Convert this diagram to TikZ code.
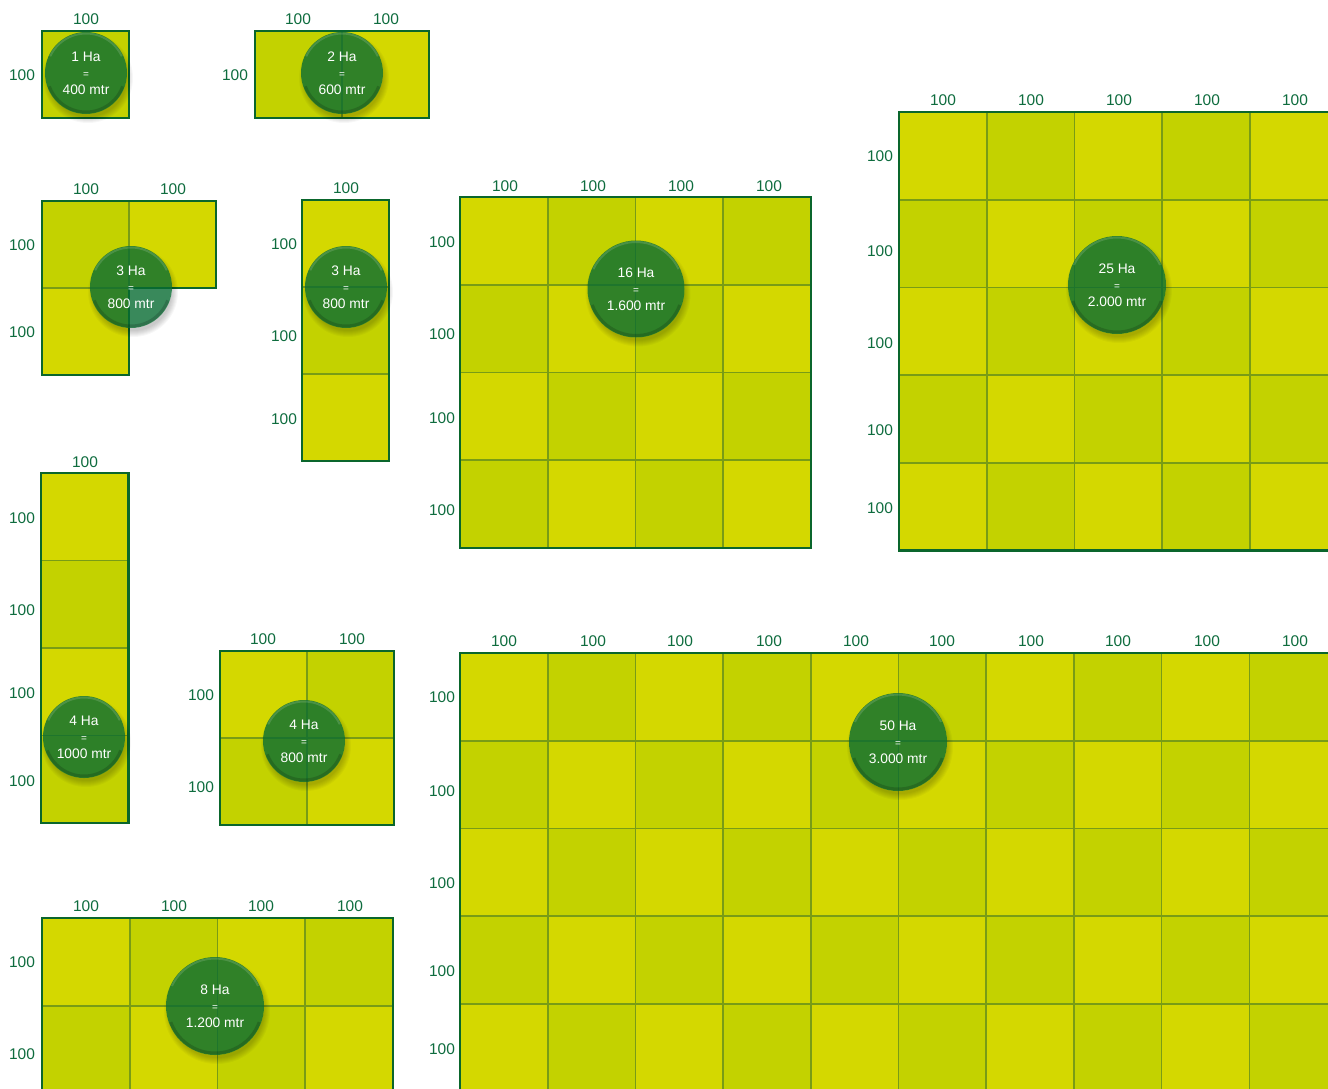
\documentclass[tikz,border=0pt]{standalone}
\usepackage{fontspec}
\setmainfont{Liberation Sans}
\definecolor{lightg}{RGB}{212,216,0}
\definecolor{darkg}{RGB}{195,210,0}
\definecolor{edgeg}{RGB}{10,102,44}
\definecolor{lineg}{RGB}{120,156,22}
\definecolor{labelg}{RGB}{14,108,62}
\definecolor{discg}{RGB}{8,108,50}
\tikzset{
  cellbox/.style={draw=lineg, line width=1.6pt},
  outline/.style={draw=edgeg, line width=2.6pt, line join=miter},
  dimlabel/.style={text=labelg, font=\fontsize{15.5}{18}\selectfont, inner sep=0pt},
  disctext/.style={inner sep=0pt, text=white, align=center, font=\fontsize{13.8}{16.5}\selectfont},
}
\def\cs{87}
\newcommand{\cells}[5]{%
  \foreach \i in {1,...,#3}{\foreach \j in {1,...,#4}{%
    \pgfmathtruncatemacro{\cpar}{mod(\i+\j+#5,2)}%
    \ifnum\cpar=0 \def\cellcol{lightg}\else\def\cellcol{darkg}\fi
    \filldraw[cellbox, fill=\cellcol] ({#1+(\i-1)*\cs},{#2+(\j-1)*\cs}) rectangle ++(\cs,\cs);
  }}}
\newcommand{\haDisc}[5]{%
  \begin{scope}[even odd rule]
    \clip (-10,-10) rectangle (1340,1100) (#2,#3) circle[radius=#4];
    \foreach \k in {1,...,7}{\fill[black, opacity=0.03] ({#2+2},{#3+5}) circle[radius={#4+\k-3}];}
  \end{scope}
  \fill[discg, opacity=0.8] (#2,#3) circle[radius=#4];
  \draw[white, opacity=0.14, line width=2pt] ({#2},{#3}) ++(205:{#4-1.5}) arc[start angle=205, end angle=335, radius={#4-1.5}];
  \draw[black, opacity=0.16, line width=3pt] ({#2},{#3}) ++(20:{#4-2}) arc[start angle=20, end angle=160, radius={#4-2}];
  \node[disctext] (#1) at (#2,#3) {#5};
}
\newcommand{\eqs}{{\fontsize{10}{16.5}\selectfont =}}
\begin{document}
\begin{tikzpicture}[x=1pt,y=-1pt]
\clip (0,0) rectangle (1328,1088);
\fill[white] (0,0) rectangle (1328,1088);

% ---- small blocks (cell 87) ----
\def\cs{87}
\cells{42}{31}{1}{1}{1}
\draw[outline] (42,31) rectangle ++(\cs,\cs);
\cells{255}{31}{2}{1}{1}
\draw[outline] (255,31) rectangle ++({2*\cs},\cs);
\cells{42}{201}{2}{1}{1}
\cells{42}{288}{1}{1}{0}
\draw[outline] (42,201) -- (216,201) -- (216,288) -- (129,288) -- (129,375) -- (42,375) -- cycle;
\cells{302}{200}{1}{3}{0}
\draw[outline] (302,200) rectangle ++(\cs,{3*\cs});
\cells{220}{651}{2}{2}{0}
\draw[outline] (220,651) rectangle ++({2*\cs},{2*\cs});
\def\cs{87.5}
\cells{41}{473}{1}{4}{0}
\draw[outline] (41,473) rectangle ++(\cs,{4*\cs});
% ---- large blocks (cell 87.7) ----
\def\cs{87.7}
\cells{42}{918}{4}{2}{0}
\draw[outline] (42,918) rectangle ++({4*\cs},{2*\cs});
\cells{460}{197}{4}{4}{0}
\draw[outline] (460,197) rectangle ++({4*\cs},{4*\cs});
\cells{899}{112}{5}{5}{0}
\draw[outline] (899,112) rectangle ++({5*\cs},{5*\cs});
\cells{460}{653}{10}{5}{0}
\draw[outline] (460,653) rectangle ++({10*\cs},{5*\cs});

% ---- dimension labels ----
\node[dimlabel] (t1-1) at (86,19) {100};
\node[dimlabel] (l1-1) at (22,75) {100};
\foreach \x [count=\c] in {298,386} \node[dimlabel] (t2-\c) at (\x,19) {100};
\node[dimlabel] (l2-1) at (235,75) {100};
\foreach \x [count=\c] in {86,173} \node[dimlabel] (t3a-\c) at (\x,189) {100};
\foreach \y [count=\c] in {245,332} \node[dimlabel] (l3a-\c) at (22,\y) {100};
\node[dimlabel] (t3b-1) at (346,188) {100};
\foreach \y [count=\c] in {244,336,419} \node[dimlabel] (l3b-\c) at (284,\y) {100};
\node[dimlabel] (t4a-1) at (85,462) {100};
\foreach \y [count=\c] in {518,610,693,781} \node[dimlabel] (l4a-\c) at (22,\y) {100};
\foreach \x [count=\c] in {263,352} \node[dimlabel] (t4b-\c) at (\x,639) {100};
\foreach \y [count=\c] in {695,787} \node[dimlabel] (l4b-\c) at (201,\y) {100};
\foreach \x [count=\c] in {86,174,261,350} \node[dimlabel] (t8-\c) at (\x,906) {100};
\foreach \y [count=\c] in {962,1054} \node[dimlabel] (l8-\c) at (22,\y) {100};
\foreach \x [count=\c] in {505,593,681,769} \node[dimlabel] (t16-\c) at (\x,186) {100};
\foreach \y [count=\c] in {242,334,418,510} \node[dimlabel] (l16-\c) at (442,\y) {100};
\foreach \x [count=\c] in {943,1031,1119,1207,1295} \node[dimlabel] (t25-\c) at (\x,100) {100};
\foreach \y [count=\c] in {156,251,343,430,508} \node[dimlabel] (l25-\c) at (880,\y) {100};
\foreach \x [count=\c] in {504,593,680,769,856,942,1031,1118,1207,1295} \node[dimlabel] (t50-\c) at (\x,641) {100};
\foreach \y [count=\c] in {697,791,883,971,1049} \node[dimlabel] (l50-\c) at (442,\y) {100};

% ---- discs ----
\haDisc{d1}{86}{73}{41}{1 Ha\\\eqs\\400 mtr}
\haDisc{d2}{342}{73}{41}{2 Ha\\\eqs\\600 mtr}
\haDisc{d3a}{131}{287}{41}{3 Ha\\\eqs\\800 mtr}
\haDisc{d3b}{346}{287}{41}{3 Ha\\\eqs\\800 mtr}
\haDisc{d4a}{84}{737}{41}{4 Ha\\\eqs\\1000 mtr}
\haDisc{d4b}{304}{741}{41}{4 Ha\\\eqs\\800 mtr}
\haDisc{d8}{215}{1006}{49}{8 Ha\\\eqs\\1.200 mtr}
\haDisc{d16}{636}{289}{48.5}{16 Ha\\\eqs\\1.600 mtr}
\haDisc{d25}{1117}{285}{49}{25 Ha\\\eqs\\2.000 mtr}
\haDisc{d50}{898}{742}{49}{50 Ha\\\eqs\\3.000 mtr}
\end{tikzpicture}
\end{document}
